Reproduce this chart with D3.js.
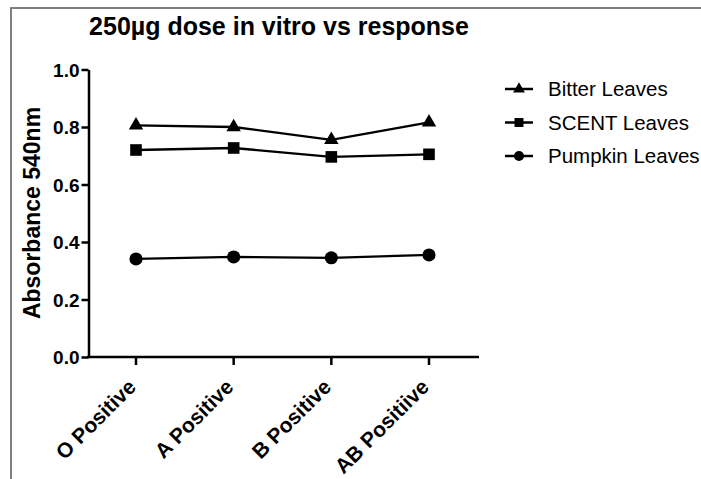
<!DOCTYPE html>
<html><head><meta charset="utf-8">
<script src="https://cdn.jsdelivr.net/npm/d3@7"></script>
<style>
body{margin:0;background:#fff;}
svg{display:block;}
.tick text{font-family:"Liberation Sans",Arial,sans-serif;font-weight:bold;}
</style>
</head><body>
<svg id="chart" width="701" height="479"></svg>
<script>
const categories = ["O Positive", "A Positive", "B Positive", "AB Positiive"];
const bitterLeaves = [0.806, 0.800, 0.755, 0.816];
const scentLeaves = [0.720, 0.727, 0.696, 0.705];
const pumpkinLeaves = [0.341, 0.348, 0.345, 0.355];
const seriesNames = ["Bitter Leaves", "SCENT Leaves", "Pumpkin Leaves"];
const yTicks = [0.0, 0.2, 0.4, 0.6, 0.8, 1.0];

const series = [
  {name: seriesNames[0], values: bitterLeaves, symbol: d3.symbolTriangle},
  {name: seriesNames[1], values: scentLeaves, symbol: d3.symbolSquare},
  {name: seriesNames[2], values: pumpkinLeaves, symbol: d3.symbolCircle}
];

const svg = d3.select("#chart");
const sans = '"Liberation Sans",Arial,sans-serif';

// frame border
svg.append("path").attr("d", "M11,479 L11,8 L701,8")
  .attr("fill", "none").attr("stroke", "#808080").attr("stroke-width", 2);

const x = d3.scalePoint().domain(categories).range([136, 429]);
const y = d3.scaleLinear().domain([0, 1]).range([357, 69.5]);

// y axis
const yAxis = svg.append("g").attr("transform", "translate(88.5,0)")
  .call(d3.axisLeft(y).tickValues(yTicks).tickFormat(d3.format(".1f")).tickSize(7).tickSizeOuter(0));
yAxis.selectAll("path,line").attr("stroke", "#000").attr("stroke-width", 2.5);
yAxis.selectAll("text").attr("font-size", 19).attr("fill", "#000").attr("dy", "0.36em").attr("x", -9);

// x axis
const xAxis = svg.append("g").attr("transform", "translate(0,357)");
xAxis.append("line").attr("x1", 87).attr("x2", 479).attr("y1", 0).attr("y2", 0)
  .attr("stroke", "#000").attr("stroke-width", 2.5);
const xt = xAxis.selectAll("g.xt").data(categories).join("g").attr("class", "xt")
  .attr("transform", d => `translate(${x(d)},0)`);
xt.append("line").attr("y1", 0).attr("y2", 8).attr("stroke", "#000").attr("stroke-width", 2.5);
xt.append("text")
  .attr("transform", "translate(-4,26) rotate(-45)")
  .attr("text-anchor", "end").attr("dy", "0.35em")
  .attr("font-family", sans).attr("font-weight", "bold").attr("font-size", 21).attr("fill", "#000")
  .text(d => d);

// lines and markers
const line = d3.line().x((d, i) => x(categories[i])).y(d => y(d));
series.forEach(s => {
  svg.append("path").datum(s.values).attr("d", line)
    .attr("fill", "none").attr("stroke", "#000").attr("stroke-width", 2.3);
  svg.selectAll(null).data(s.values).join("path")
    .attr("transform", (d, i) => `translate(${x(categories[i])},${y(d)})`)
    .attr("d", d3.symbol().type(s.symbol).size(s.symbol === d3.symbolTriangle ? 90 : 135))
    .attr("fill", "#000");
});

// title
svg.append("text").attr("x", 279).attr("y", 35).attr("text-anchor", "middle")
  .attr("font-family", sans).attr("font-weight", "bold").attr("font-size", 25)
  .text("250µg dose in vitro vs response");

// y label
svg.append("text").attr("transform", "translate(40,213) rotate(-90)").attr("text-anchor", "middle")
  .attr("font-family", sans).attr("font-weight", "bold").attr("font-size", 23)
  .text("Absorbance 540nm");

// legend
const leg = svg.selectAll("g.leg").data(series).join("g").attr("class", "leg")
  .attr("transform", (d, i) => `translate(505,${89 + i * 33.5})`);
leg.append("line").attr("x1", 0).attr("x2", 28).attr("stroke", "#000").attr("stroke-width", 2.5);
leg.append("path").attr("transform", "translate(14,0)")
  .attr("d", d => d3.symbol().type(d.symbol).size(d.symbol === d3.symbolTriangle ? 60 : 80)())
  .attr("fill", "#000");
leg.append("text").attr("x", 43).attr("dy", "0.35em")
  .attr("font-family", sans).attr("font-size", 20.5).attr("fill", "#000")
  .text(d => d.name);
</script>
</body></html>
